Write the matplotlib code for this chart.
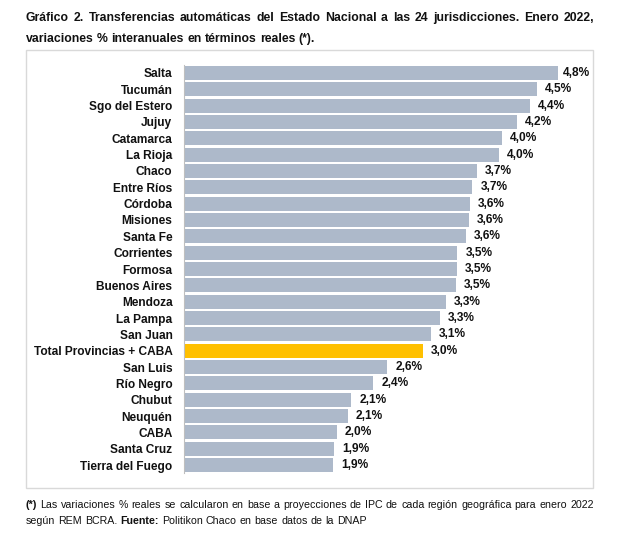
import matplotlib
matplotlib.use("Agg")
import matplotlib.pyplot as plt
from matplotlib.patches import Rectangle

plt.rcParams['font.family'] = ['Liberation Sans', 'DejaVu Sans']

categories = ["Salta", "Tucumán", "Sgo del Estero", "Jujuy", "Catamarca", "La Rioja",
              "Chaco", "Entre Ríos", "Córdoba", "Misiones", "Santa Fe", "Corrientes",
              "Formosa", "Buenos Aires", "Mendoza", "La Pampa", "San Juan",
              "Total Provincias + CABA", "San Luis", "Río Negro", "Chubut", "Neuquén",
              "CABA", "Santa Cruz", "Tierra del Fuego"]
values = [4.76, 4.49, 4.40, 4.24, 4.05, 4.01, 3.73, 3.67, 3.64, 3.63, 3.59, 3.48,
          3.47, 3.46, 3.33, 3.26, 3.14, 3.04, 2.59, 2.41, 2.13, 2.09, 1.95, 1.91, 1.90]
value_labels = ["4,8%", "4,5%", "4,4%", "4,2%", "4,0%", "4,0%", "3,7%", "3,7%", "3,6%",
                "3,6%", "3,6%", "3,5%", "3,5%", "3,5%", "3,3%", "3,3%", "3,1%", "3,0%",
                "2,6%", "2,4%", "2,1%", "2,1%", "2,0%", "1,9%", "1,9%"]
highlight = "Total Provincias + CABA"

title_lines = ["Gráfico 2. Transferencias automáticas del Estado Nacional a las 24 jurisdicciones. Enero 2022,",
               "variaciones % interanuales en términos reales (*)."]
foot_line1 = [("(*)", "bold"), ("Las variaciones % reales se calcularon en base a proyecciones de IPC de cada región geográfica para enero 2022", "normal")]
foot_line2 = [("según REM BCRA.", "normal"), ("Fuente:", "bold"), ("Politikon Chaco en base datos de la DNAP", "normal")]

W, H = 626, 543
fig = plt.figure(figsize=(W / 100, H / 100), dpi=100)
fig.patch.set_facecolor("white")

# frame
fig.patches.append(Rectangle((26 / W, 1 - 488 / H), (593 - 26) / W, (488 - 50) / H,
                             transform=fig.transFigure, facecolor="none",
                             edgecolor="#D9D9D9", linewidth=1.0, zorder=0))

x0px, x1px = 183.5, 593.0
px_per_unit = 78.7
top_px, bot_px = 73 - 8.17, 465 + 8.17
ax = fig.add_axes([x0px / W, 1 - bot_px / H, (x1px - x0px) / W, (bot_px - top_px) / H])
ax.set_facecolor("none")
ax.set_zorder(2)
n = len(categories)
ypos = list(range(n))
colors = ["#FFC000" if c == highlight else "#ADB9CA" for c in categories]
ax.barh(ypos, values, height=0.86, color=colors, edgecolor="none", zorder=2)
ax.set_xlim(0, (x1px - x0px) / px_per_unit)
ax.set_ylim(n - 0.5, -0.5)
ax.set_yticks(ypos)
ax.set_yticklabels(categories, fontsize=8.6, fontweight="bold", color="#111111")
ax.tick_params(axis="y", length=0, pad=8)
ax.set_xticks([])
for s in ["top", "right", "bottom"]:
    ax.spines[s].set_visible(False)
ax.spines["left"].set_color("#BFBFBF")
ax.spines["left"].set_linewidth(0.8)

fig.canvas.draw()
renderer = fig.canvas.get_renderer()
for yi, v, lab in zip(ypos, values, value_labels):
    t = ax.text(0, yi, lab, fontsize=8.6, fontweight="bold", color="#111111",
                va="center", ha="left")
    w = t.get_window_extent(renderer).width
    xpx = x0px + v * px_per_unit + 8
    if xpx + w > 590:
        xpx = 590 - w
    t.set_x((xpx - x0px) / px_per_unit)


def measure(s, weight, size):
    t = fig.text(0, 0, s, fontsize=size, fontweight=weight)
    w = t.get_window_extent(renderer).width
    t.remove()
    return w


def draw_line(segments, xl, xr, base_y, size, justify):
    words = []
    for seg, wt in segments:
        for wd in seg.split(" "):
            words.append((wd, wt))
    # natural layout measured with a uniform (normal) weight for spacing
    starts, ends = [], []
    for i, (wd, wt) in enumerate(words):
        if i == 0:
            starts.append(0.0)
        else:
            prev_end = ends[-1]
            space = measure("n n", wt, size) - measure("nn", wt, size)
            starts.append(prev_end + space)
        ends.append(starts[-1] + measure(wd, wt, size))
    extra = 0.0
    if justify and len(words) > 1:
        extra = (xr - xl - ends[-1]) / (len(words) - 1)
    for i, (wd, wt) in enumerate(words):
        x = xl + starts[i] + extra * i
        fig.text(x / W, 1 - base_y / H, wd, fontsize=size, fontweight=wt,
                 color="#111111", va="baseline", ha="left")


draw_line([(title_lines[0], "bold")], 26, 594, 21, 8.8, True)
draw_line([(title_lines[1], "bold")], 26, 594, 42, 8.8, False)
draw_line(foot_line1, 26, 594, 508, 7.7, True)
draw_line(foot_line2, 26, 594, 524, 7.7, False)

fig.savefig("out.png", dpi=100, facecolor="white")
